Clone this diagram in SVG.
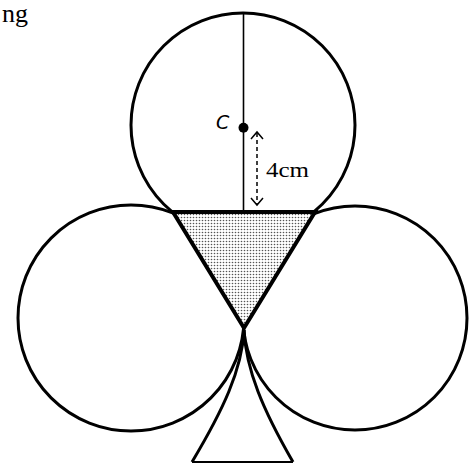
<svg xmlns="http://www.w3.org/2000/svg" width="473" height="463" viewBox="0 0 473 463">
<style>
.shape{fill:none;stroke:#000;stroke-width:3}
.serif{font-family:"Liberation Serif","Times New Roman",serif;fill:#000}
.hand{font-family:"DejaVu Sans","Liberation Sans",sans-serif;font-style:italic;fill:#000}
.dash{fill:none;stroke:#000;stroke-width:1.5;stroke-dasharray:4 3}
.head{fill:none;stroke:#000;stroke-width:1.5}
</style>
<defs>
<pattern id="dots" width="3" height="3" patternUnits="userSpaceOnUse">
<rect width="3" height="3" fill="#fff"/>
<circle cx="1.5" cy="1.5" r="0.8" fill="#555"/>
</pattern>
</defs>
<rect width="473" height="463" fill="#fff"/>
<text class="serif" x="2" y="22" font-size="26">ng</text>
<g id="top-circle"><circle class="shape" cx="243" cy="125" r="112"/></g>
<g id="left-circle"><circle class="shape" cx="131" cy="318" r="113"/></g>
<g id="right-circle"><circle class="shape" cx="355" cy="318" r="112"/></g>
<g id="triangle"><polygon points="173,212 315,212 244,328" fill="url(#dots)" stroke="#000" stroke-width="4" stroke-linejoin="miter"/></g>
<g id="stem">
<path class="shape" d="M244,330 C242,370 223,410 192,462"/>
<path class="shape" d="M244,330 C246,370 263,410 293,462"/>
<line x1="192" y1="462" x2="293" y2="462" stroke="#000" stroke-width="2"/>
</g>
<g id="centre">
<circle cx="243.5" cy="127.7" r="5" fill="#000"/>
<text class="hand" x="216" y="129" font-size="19">C</text>
</g>
<g id="connectors">
<line x1="243.5" y1="13" x2="243.5" y2="212" stroke="#000" stroke-width="1.6"/>
<line class="dash" x1="257" y1="133" x2="257" y2="204"/>
<polyline class="head" points="251,139 257,132 263,139"/>
<polyline class="head" points="251,198 257,205 263,198"/>
</g>
<text class="serif" x="266" y="177" font-size="21" textLength="43" lengthAdjust="spacingAndGlyphs">4cm</text>
</svg>
